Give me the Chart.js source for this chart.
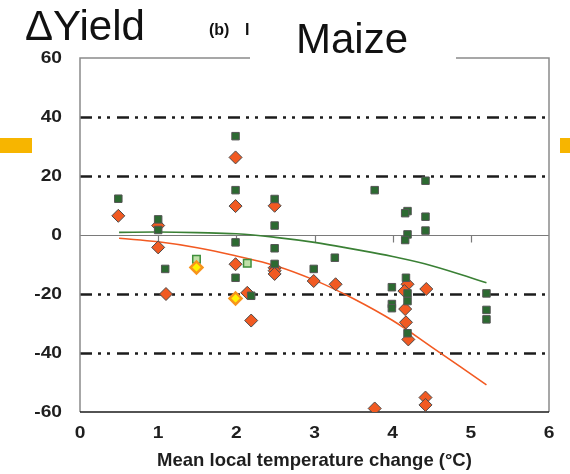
<!DOCTYPE html>
<html>
<head>
<meta charset="utf-8">
<script src="https://cdn.jsdelivr.net/npm/chart.js@4.4.1/dist/chart.umd.min.js"></script>
<style>
  html, body { margin: 0; padding: 0; background: #fff; }
  #wrap { width: 570px; height: 474px; }
</style>
</head>
<body>
<div id="wrap"><canvas id="maizeChart" width="570" height="474"></canvas></div>
<script>
// ------------------------- DATA ----------------------------------------------

// dark green squares
var sqX = [0.49, 1.0, 1.0, 1.09, 1.99, 1.99, 1.99, 1.99, 2.19, 2.49, 2.49, 2.49, 2.49, 2.99, 3.26, 3.77,
           3.99, 3.99, 3.99, 4.42, 4.19, 4.16, 4.42, 4.42, 4.19, 4.16, 4.17, 4.19, 4.19, 4.19, 5.2, 5.2, 5.2];
var sqY = [12.3, 5.3, 1.7, -11.5, 33.5, 15.2, -2.5, -14.5, -20.6, 12.2, 3.2, -4.5, -9.8, -11.5, -7.7, 15.2,
           -17.7, -23.4, -24.8, 18.4, 8.1, 7.4, 6.2, 1.5, 0.2, -1.7, -14.5, -19.8, -22.4, -33.3, -19.8, -25.4, -28.6];

// orange diamonds
var dmX = [0.49, 1.0, 1.0, 1.1, 1.99, 1.99, 1.99, 2.14, 2.19, 2.49, 2.49, 2.49, 2.49, 2.99, 3.27, 3.77,
           4.19, 4.15, 4.43, 4.16, 4.17, 4.2, 4.42, 4.42];
var dmY = [6.5, 3.2, -4.2, -20.0, 26.3, 9.8, -9.9, -19.6, -29.0, 9.9, -11.1, -12.1, -13.2, -15.6, -16.7, -58.8,
           -16.7, -19.0, -18.3, -25.1, -29.6, -35.4, -55.1, -57.6];

// light green squares and yellow diamonds
var lightSqX = [1.49, 2.14];
var lightSqY = [-8.2, -9.6];
var yelX = [1.49, 1.99];
var yelY = [-11.0, -21.5];

// fitted curves
var curveX = [0.5, 1.0, 1.5, 2.0, 2.5, 3.0, 3.5, 4.0, 4.5, 5.2];
var greenCurve = [0.9, 1.0, 0.8, 0.4, -0.8, -2.5, -4.8, -7.3, -10.4, -16.2];
var orangeCurve = [-1.1, -2.3, -4.3, -7.1, -10.4, -15.3, -21.6, -29.0, -38.0, -50.8];

// dash-dot reference levels
var refLevels = [40, 20, -20, -40];

// ------------------------- HELPERS -------------------------------------------

function toPoints(xs, ys) {
  var pts = [];
  for (var i = 0; i < xs.length; i++) {
    pts.push({x: xs[i], y: ys[i]});
  }
  return pts;
}

var FONT = '"Liberation Sans", Arial, sans-serif';
var LABEL_STRETCH = 1.2;   // tick numbers are drawn a bit wide

// draws text stretched horizontally around its anchor
function wideText(ctx, text, x, y, align) {
  ctx.save();
  ctx.translate(x, y);
  ctx.scale(LABEL_STRETCH, 1);
  ctx.textAlign = align;
  ctx.fillText(text, 0, 0);
  ctx.restore();
}

// grid, frame and zero axis drawn under the markers
var framePlugin = {
  id: 'frame',
  beforeDatasetsDraw: function(chart) {
    var ctx = chart.ctx;
    var a = chart.chartArea;
    var xs = chart.scales.x;
    var ys = chart.scales.y;
    ctx.save();

    // dash-dot-dot lines
    ctx.strokeStyle = '#1c1c1c';
    ctx.lineWidth = 2.5;
    ctx.setLineDash([12, 6, 3, 6, 3, 7]);
    refLevels.forEach(function(v) {
      var py = Math.round(ys.getPixelForValue(v)) + 0.5;
      ctx.beginPath();
      ctx.moveTo(a.left, py);
      ctx.lineTo(a.right, py);
      ctx.stroke();
    });
    ctx.setLineDash([]);

    // zero line with small ticks below it
    var y0 = Math.round(ys.getPixelForValue(0)) + 0.5;
    ctx.strokeStyle = '#7a7a7a';
    ctx.lineWidth = 1.2;
    ctx.beginPath();
    ctx.moveTo(a.left, y0);
    ctx.lineTo(a.right, y0);
    xs.ticks.forEach(function(t) {
      if (t.value <= xs.min || t.value >= xs.max) return;
      var px = Math.round(xs.getPixelForValue(t.value)) + 0.5;
      ctx.moveTo(px, y0);
      ctx.lineTo(px, y0 + 7);
    });
    ctx.stroke();

    // frame: grey on three sides, black along the bottom
    ctx.strokeStyle = '#8a8a8a';
    ctx.lineWidth = 1.5;
    ctx.beginPath();
    ctx.moveTo(a.left, a.bottom);
    ctx.lineTo(a.left, a.top);
    ctx.lineTo(a.right, a.top);
    ctx.lineTo(a.right, a.bottom);
    ctx.stroke();
    ctx.strokeStyle = '#1a1a1a';
    ctx.beginPath();
    ctx.moveTo(a.left, a.bottom);
    ctx.lineTo(a.right, a.bottom);
    ctx.stroke();
    ctx.restore();
  },
  afterDraw: function(chart) {
    var ctx = chart.ctx;
    var a = chart.chartArea;
    var xs = chart.scales.x;
    var ys = chart.scales.y;
    ctx.save();

    // tick numbers from the scales' own ticks
    ctx.fillStyle = '#1e1e1e';
    ctx.font = 'bold 16px ' + FONT;
    ctx.textBaseline = 'middle';
    ys.ticks.forEach(function(t) {
      wideText(ctx, String(t.value), a.left - 18, ys.getPixelForValue(t.value) + 1, 'right');
    });
    xs.ticks.forEach(function(t) {
      wideText(ctx, String(t.value), xs.getPixelForValue(t.value), a.bottom + 22, 'center');
    });

    // white panel behind the crop name
    ctx.fillStyle = '#fff';
    ctx.fillRect(250, 0, 206, 66);

    // side tabs
    ctx.fillStyle = '#f7b500';
    ctx.fillRect(0, 138, 32, 15);
    ctx.fillRect(560, 138, 10, 15);

    ctx.fillStyle = '#111';
    ctx.textBaseline = 'alphabetic';
    ctx.textAlign = 'left';
    ctx.font = '42px ' + FONT;
    ctx.fillText('\u0394Yield', 25, 40);
    ctx.fillText('Maize', 296, 53);
    ctx.font = 'bold 16px ' + FONT;
    ctx.fillText('(b)', 209, 35);
    ctx.fillText('I', 245, 35);
    ctx.restore();
  }
};

// ------------------------- CHART ---------------------------------------------

var chart = new Chart(document.getElementById('maizeChart'), {
  type: 'scatter',
  data: {
    datasets: [
      {
        type: 'line',
        label: 'green fit',
        data: toPoints(curveX, greenCurve),
        borderColor: '#3a8035',
        borderWidth: 1.6,
        pointRadius: 0,
        tension: 0.4,
        fill: false,
        order: 10
      },
      {
        type: 'line',
        label: 'orange fit',
        data: toPoints(curveX, orangeCurve),
        borderColor: '#f25a22',
        borderWidth: 1.6,
        pointRadius: 0,
        tension: 0.4,
        fill: false,
        order: 9
      },
      {
        label: 'diamonds',
        data: toPoints(dmX, dmY),
        pointStyle: 'rectRot',
        pointRadius: 6.5,
        backgroundColor: '#f15a22',
        borderColor: '#4a4a4a',
        borderWidth: 1,
        order: 4
      },
      {
        label: 'squares',
        data: toPoints(sqX, sqY),
        pointStyle: 'rect',
        pointRadius: 5.3,
        backgroundColor: '#2c6a31',
        borderColor: '#555',
        borderWidth: 1,
        order: 3
      },
      {
        label: 'light squares',
        data: toPoints(lightSqX, lightSqY),
        pointStyle: 'rect',
        pointRadius: 5.3,
        backgroundColor: '#bfe0a8',
        borderColor: '#3f8f3c',
        borderWidth: 1.5,
        order: 2
      },
      {
        label: 'yellow diamonds',
        data: toPoints(yelX, yelY),
        pointStyle: 'rectRot',
        pointRadius: 6,
        backgroundColor: '#fff200',
        borderColor: '#f7941d',
        borderWidth: 2.5,
        order: 1
      }
    ]
  },
  options: {
    responsive: false,
    animation: false,
    events: [],
    layout: {padding: {top: 58, right: 21, left: 0, bottom: 0}},
    plugins: {legend: {display: false}, tooltip: {enabled: false}},
    scales: {
      x: {
        type: 'linear',
        min: 0,
        max: 6,
        grid: {display: false, drawTicks: false},
        border: {display: false},
        ticks: {stepSize: 1, display: false},
        title: {
          display: true,
          text: 'Mean local temperature change (\u00b0C)',
          color: '#1e1e1e',
          font: {family: FONT, size: 18.5, weight: 'bold'},
          padding: {top: 0, bottom: 2}
        },
        afterFit: function(s) { s.height = 62; }
      },
      y: {
        min: -60,
        max: 60,
        grid: {display: false, drawTicks: false},
        border: {display: false},
        ticks: {stepSize: 20, display: false},
        afterFit: function(s) { s.width = 80; }
      }
    }
  },
  plugins: [framePlugin]
});
</script>
</body>
</html>
